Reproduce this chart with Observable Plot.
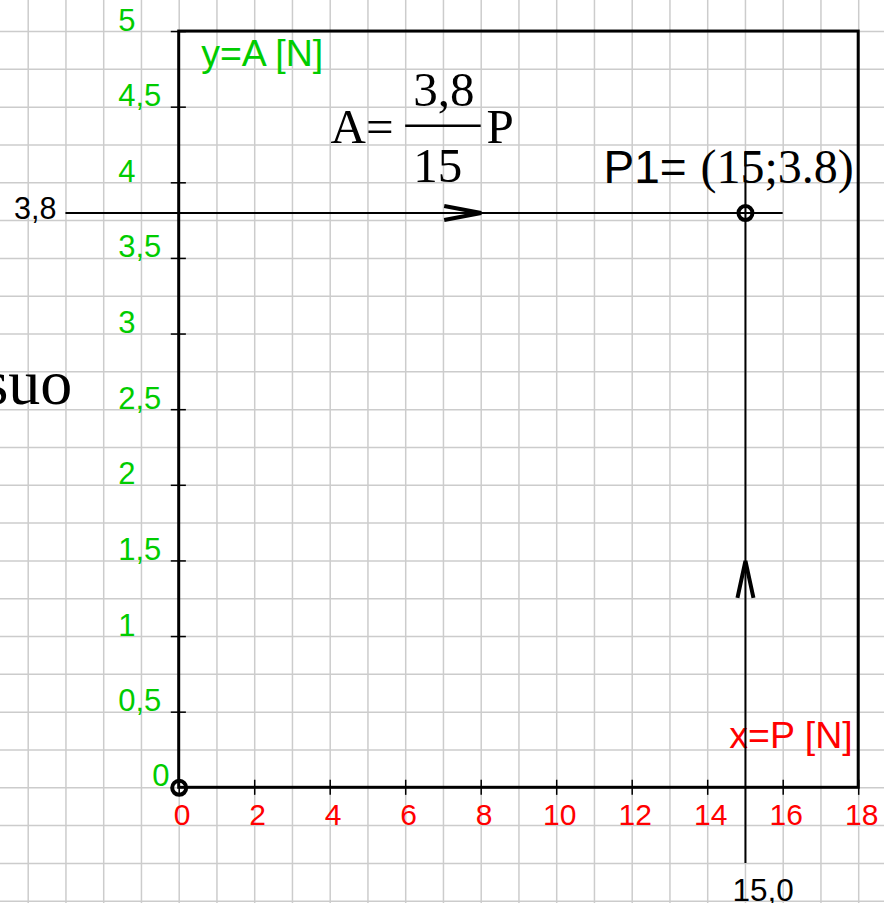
<!DOCTYPE html>
<html>
<head>
<meta charset="utf-8">
<script src="https://cdn.jsdelivr.net/npm/d3@7"></script>
<script src="https://cdn.jsdelivr.net/npm/@observablehq/plot@0.6"></script>
<style>
  html, body { margin: 0; padding: 0; background: #fff; }
  svg { display: block; }
</style>
</head>
<body>
<div id="chart"></div>
<script>
// Axis ticks and their labels (decimal comma on the A axis)
const xTicks = [0, 2, 4, 6, 8, 10, 12, 14, 16, 18];
const xTickLabels = ["0", "2", "4", "6", "8", "10", "12", "14", "16", "18"];
const yTicks = [0.5, 1, 1.5, 2, 2.5, 3, 3.5, 4, 4.5, 5];
const yTickLabels = ["0,5", "1", "1,5", "2", "2,5", "3", "3,5", "4", "4,5", "5"];

// Squared paper: one square = 1 N across, 0.25 N up
const gridX = d3.range(-4, 19, 1);
const gridY = d3.range(-0.75, 5.01, 0.25);

// Measured point P1 = (P; A) and the origin
const P1 = {x: 15, y: 3.8};
const origin = {x: 0, y: 0};
const points = [origin, P1];

// Reading guides through P1
const guideH = {x1: -3, x2: 16, y: P1.y};
const guideV = {x: P1.x, y1: -0.5, y2: 4.2};

// Tips of the direction arrowheads on the guides
const tipH = {x: 8, y: P1.y};
const tipV = {x: P1.x, y: 1.5};

const GREEN = "#00cc00";
const RED = "#ff0000";
const SANS = "Liberation Sans, Arial, sans-serif";
const SERIF = "Liberation Serif, Times New Roman, serif";

// page layout of the frame: origin pixel and pixels per unit
const W = 884, H = 903;
const ox = 178.7, oy = 787.3, kx = 37.75, ky = 151.25;

// open chevrons: arm length and half-spread given in pixels
function chevron(tip, dirX, dirY, len, half, id) {
  const bx = tip.x - dirX * len / kx, by = tip.y - dirY * len / ky;
  const px = -dirY * half / kx, py = dirX * half / ky;
  return [
    {id, x: bx + px, y: by + py},
    {id, x: tip.x, y: tip.y},
    {id, x: bx - px, y: by - py}
  ];
}
const heads = [
  ...chevron(tipH, 1, 0, 37, 7, "h"),
  ...chevron(tipV, 0, 1, 37, 8, "v")
];

const chart = Plot.plot({
  width: W,
  height: H,
  margin: 0,
  x: {domain: [-ox / kx, (W - ox) / kx], axis: null},
  y: {domain: [(oy - H) / ky, oy / ky], axis: null},
  style: {background: "#fff", overflow: "visible"},
  marks: [
    // background grid
    Plot.ruleX(gridX, {x: d => d, stroke: "#cccccc", strokeWidth: 1.5}),
    Plot.ruleY(gridY, {y: d => d, stroke: "#cccccc", strokeWidth: 1.5}),

    // frame around the plotting region
    Plot.rect([{x1: 0, x2: 18, y1: 0, y2: 5}], {
      x1: "x1", x2: "x2", y1: "y1", y2: "y2",
      fill: "none", stroke: "#000", strokeWidth: 3
    }),

    // tick marks crossing the axes
    Plot.ruleX(xTicks, {x: d => d, y1: -0.05, y2: 0.05, stroke: "#000", strokeWidth: 1.5}),
    Plot.ruleY(yTicks, {y: d => d, x1: -0.21, x2: 0.19, stroke: "#000", strokeWidth: 1.5}),

    // tick labels
    Plot.text(xTicks, {
      x: d => d, y: 0, text: (d, i) => xTickLabels[i],
      dx: 3, dy: 37, lineAnchor: "bottom", textAnchor: "middle",
      fill: RED, fontSize: 30, fontFamily: SANS
    }),
    Plot.text(yTicks, {
      x: 0, y: d => d, text: (d, i) => yTickLabels[i],
      dx: -61, dy: -1, lineAnchor: "bottom", textAnchor: "start",
      fill: GREEN, fontSize: 31, fontFamily: SANS
    }),
    Plot.text(["0"], {
      x: 0, y: 0, text: d => d, dx: -27, dy: -2,
      lineAnchor: "bottom", textAnchor: "start",
      fill: GREEN, fontSize: 31, fontFamily: SANS
    }),

    // axis titles
    Plot.text(["y=A [N]"], {
      x: 0, y: 5, text: d => d, dx: 22, dy: 34,
      lineAnchor: "bottom", textAnchor: "start",
      fill: GREEN, fontSize: 37.5, fontFamily: SANS
    }),
    Plot.text(["x=P [N]"], {
      x: 18, y: 0, text: d => d, dx: -6, dy: -40,
      lineAnchor: "bottom", textAnchor: "end",
      fill: RED, fontSize: 37.5, fontFamily: SANS
    }),

    // guides through P1
    Plot.ruleY([guideH], {y: "y", x1: "x1", x2: "x2", stroke: "#000", strokeWidth: 2}),
    Plot.ruleX([guideV], {x: "x", y1: "y1", y2: "y2", stroke: "#000", strokeWidth: 2}),
    Plot.line(heads, {
      x: "x", y: "y", z: "id", stroke: "#000", strokeWidth: 4,
      strokeLinejoin: "miter", strokeLinecap: "butt"
    }),

    // reading values at the guide ends
    Plot.text([P1.y], {
      x: guideH.x1, y: d => d, text: () => "3,8",
      dx: -52, dy: 6, lineAnchor: "bottom", textAnchor: "start",
      fill: "#000", fontSize: 30.5, fontFamily: SANS
    }),
    Plot.text([P1.x], {
      x: d => d, y: guideV.y1, text: () => "15,0",
      dx: -13, dy: 38, lineAnchor: "bottom", textAnchor: "start",
      fill: "#000", fontSize: 31.5, fontFamily: SANS
    }),

    // points
    Plot.dot(points, {x: "x", y: "y", r: 7, fill: "none", stroke: "#000", strokeWidth: 4}),

    // the line's equation: A = (3,8 / 15) P
    Plot.text(["A="], {
      x: 4.01, y: 4.26, text: d => d, lineAnchor: "bottom", textAnchor: "start",
      fill: "#000", fontSize: 49, fontFamily: SERIF
    }),
    Plot.ruleY([4.378], {y: d => d, x1: 6.0, x2: 8.0, stroke: "#000", strokeWidth: 2.5}),
    Plot.text(["3,8"], {
      x: 6.2, y: 4.51, text: d => d, lineAnchor: "bottom", textAnchor: "start",
      fill: "#000", fontSize: 49, fontFamily: SERIF
    }),
    Plot.text(["15"], {
      x: 6.2, y: 4.008, text: d => d, lineAnchor: "bottom", textAnchor: "start",
      fill: "#000", fontSize: 49, fontFamily: SERIF
    }),
    Plot.text(["P"], {
      x: 8.14, y: 4.26, text: d => d, lineAnchor: "bottom", textAnchor: "start",
      fill: "#000", fontSize: 49, fontFamily: SERIF
    }),

    // coordinates of P1
    Plot.text(["P1="], {
      x: 11.24, y: 4.0, text: d => d, lineAnchor: "bottom", textAnchor: "start",
      fill: "#000", fontSize: 46, fontFamily: SANS
    }),
    Plot.text(["(15;3.8)"], {
      x: 13.81, y: 4.0, text: d => d, lineAnchor: "bottom", textAnchor: "start",
      fill: "#000", fontSize: 48, fontFamily: SERIF
    }),

    // word fragment at the left edge
    Plot.text(["suo"], {
      x: -2.83, y: 2.54, text: d => d, lineAnchor: "bottom", textAnchor: "end",
      fill: "#000", fontSize: 64, fontFamily: SERIF
    })
  ]
});

document.getElementById("chart").appendChild(chart);
</script>
</body>
</html>
